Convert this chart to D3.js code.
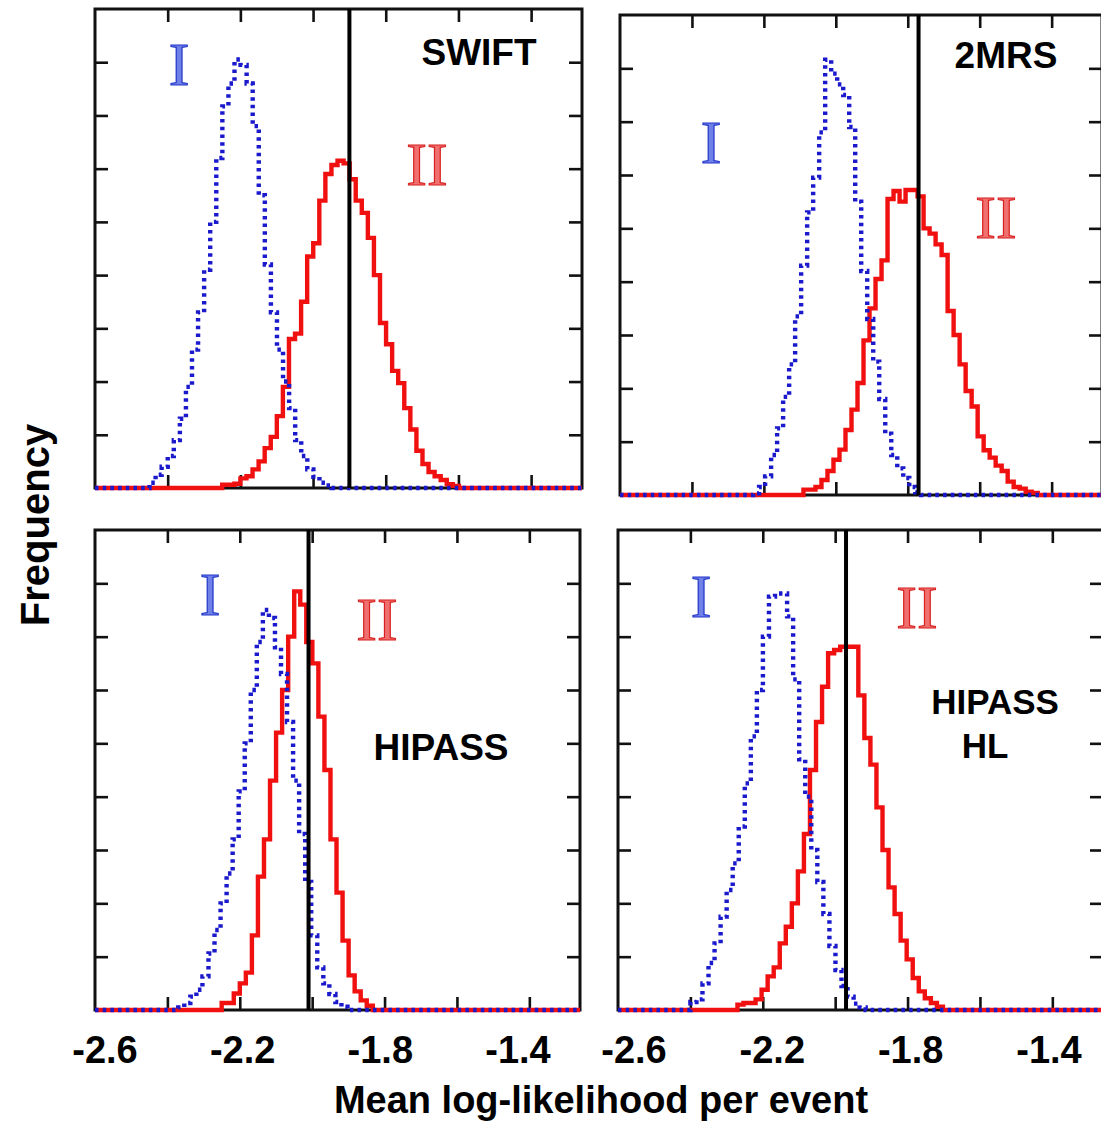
<!DOCTYPE html>
<html><head><meta charset="utf-8">
<script src="https://cdn.jsdelivr.net/npm/d3@7"></script>
<style>body{margin:0;background:#fff;} svg{display:block;}</style>
</head><body>
<svg id="c" width="1101" height="1125"></svg>
<script>
// ---------------- data ----------------
const panelNames = ["SWIFT", "2MRS", "HIPASS", "HIPASS HL"];
const binWidth = 0.0167;
const xDomain = [-2.6, -1.26];
const yDomain = [0, 9];
const xTickValues = [-2.4, -2.2, -2.0, -1.8, -1.6, -1.4];
const yTickValues = [1, 2, 3, 4, 5, 6, 7, 8];
const xLabelValues = [-2.6, -2.2, -1.8, -1.4];
const xTickLabels = ["-2.6", "-2.2", "-1.8", "-1.4"];
const thresholdValues = [-1.90, -1.77, -2.01, -1.97];
const seriesIStart = [-2.45, -2.23, -2.37, -2.40];
const seriesIIStart = [-2.25, -2.09, -2.25, -2.27];

const seriesI_SWIFT = [0.1,0.25,0.4,0.6,0.9,1.3,1.9,2.6,3.3,4.1,5.0,6.2,7.17,7.6,8.05,7.95,7.6,6.8,5.5,4.2,3.3,2.6,2.0,1.5,0.9,0.6,0.35,0.21,0.1,0.05];
const seriesII_SWIFT = [0.06,0.06,0.08,0.18,0.22,0.35,0.5,0.75,0.96,1.35,1.9,2.8,2.9,3.5,4.35,4.6,5.4,5.9,6.07,6.15,6.1,5.8,5.4,5.17,4.7,4.0,3.1,2.7,2.2,1.97,1.5,1.1,0.7,0.45,0.3,0.22,0.15,0.07,0.04];
const seriesI_2MRS = [0.03,0.15,0.35,0.75,1.25,1.84,2.45,3.35,4.3,5.3,5.95,6.8,8.16,7.9,7.7,7.5,6.9,5.5,4.2,3.3,2.5,1.8,1.15,0.75,0.5,0.32,0.15,0.05];
const seriesII_2MRS = [0.1,0.1,0.15,0.28,0.45,0.66,0.85,1.22,1.6,2.1,2.9,3.5,4.05,4.4,5.55,5.7,5.5,5.72,5.72,5.6,5.0,4.9,4.7,4.5,3.45,3.0,2.45,1.95,1.66,1.1,0.84,0.7,0.55,0.45,0.25,0.15,0.12,0.06,0.04];
const seriesI_HIPASS = [0.05,0.13,0.25,0.38,0.63,1.06,1.5,2.0,2.56,3.2,4.1,5.0,6.0,6.9,7.5,7.35,6.8,6.3,5.4,4.3,3.3,2.4,1.4,0.8,0.5,0.3,0.15,0.06];
const seriesII_HIPASS = [0.13,0.13,0.31,0.5,0.7,1.4,2.5,3.2,4.3,5.2,6.0,7.0,7.85,7.6,6.9,6.5,5.5,4.5,3.2,2.2,1.3,0.65,0.35,0.18,0.08];
const seriesI_HIPASSHL = [0.15,0.2,0.5,0.88,1.25,1.75,2.25,2.75,3.44,4.25,5.13,6.0,7.0,7.75,7.81,7.81,7.38,6.2,4.7,4.0,3.0,2.4,1.8,1.2,0.75,0.45,0.25,0.12,0.05];
const seriesII_HIPASSHL = [0.1,0.13,0.13,0.2,0.38,0.63,0.8,1.25,1.56,2.0,2.6,3.3,4.5,5.4,6.06,6.69,6.75,6.81,6.81,6.81,5.9,5.1,4.6,3.8,3.0,2.3,1.8,1.3,0.95,0.6,0.35,0.22,0.13,0.06];

const seriesI = [seriesI_SWIFT, seriesI_2MRS, seriesI_HIPASS, seriesI_HIPASSHL];
const seriesII = [seriesII_SWIFT, seriesII_2MRS, seriesII_HIPASS, seriesII_HIPASSHL];

// ---------------- layout ----------------
const layout = [
  {left: 95,  right: 582,  top: 9,   bottom: 488,  I: [179, 85],  II: [427, 185], name: [[479, 65]]},
  {left: 620, right: 1102, top: 15,  bottom: 495,  I: [711, 163], II: [996, 238], name: [[1006, 68]]},
  {left: 95,  right: 580,  top: 530, bottom: 1010, I: [210, 615], II: [377, 640], name: [[441, 760]]},
  {left: 618, right: 1103, top: 530, bottom: 1010, I: [701, 617], II: [917, 628], name: [[995, 714], [985, 758]]}
];
const labelRanges = [[105, 518], [634, 1049]];

const svg = d3.select("#c");
const SANS = "'Liberation Sans', Arial, Helvetica, sans-serif";
const SERIF = "'Liberation Serif', 'Times New Roman', serif";
const RED = "#f01010", BLUE = "#1a1acc";

function histPoints(start, vals) {
  const pts = [{x: xDomain[0], y: 0}];
  vals.forEach((v, i) => pts.push({x: start + i * binWidth, y: v}));
  pts.push({x: start + vals.length * binWidth, y: 0});
  pts.push({x: xDomain[1], y: 0});
  return pts;
}

layout.forEach((L, p) => {
  const x = d3.scaleLinear().domain(xDomain).range([L.left, L.right]);
  const y = d3.scaleLinear().domain(yDomain).range([L.bottom, L.top]);
  const g = svg.append("g");
  const cid = "clip" + p;
  svg.append("clipPath").attr("id", cid).append("rect")
    .attr("x", L.left - 3).attr("y", L.top - 3)
    .attr("width", L.right - L.left + 6).attr("height", L.bottom - L.top + 6);

  // frame
  g.append("rect").attr("x", L.left).attr("y", L.top)
    .attr("width", L.right - L.left).attr("height", L.bottom - L.top)
    .attr("fill", "none").attr("stroke", "#111").attr("stroke-width", 3);

  // ticks (inward on all four sides)
  const tl = 13;
  const axB = d3.axisBottom(x).tickValues(xTickValues).tickSize(-tl).tickFormat("");
  const axT = d3.axisTop(x).tickValues(xTickValues).tickSize(-tl).tickFormat("");
  const axL = d3.axisLeft(y).tickValues(yTickValues).tickSize(-tl).tickFormat("");
  const axR = d3.axisRight(y).tickValues(yTickValues).tickSize(-tl).tickFormat("");
  [[axB, `translate(0,${L.bottom})`], [axT, `translate(0,${L.top})`],
   [axL, `translate(${L.left},0)`], [axR, `translate(${L.right},0)`]].forEach(([ax, tr]) => {
    const a = g.append("g").attr("transform", tr).call(ax);
    a.select(".domain").remove();
    a.selectAll("line").attr("stroke", "#111").attr("stroke-width", 2.6);
  });

  const line = d3.line().x(d => x(d.x)).y(d => y(d.y)).curve(d3.curveStepAfter);
  const cg = g.append("g").attr("clip-path", `url(#${cid})`);
  cg.append("path").attr("d", line(histPoints(seriesIIStart[p], seriesII[p])))
    .attr("fill", "none").attr("stroke", RED).attr("stroke-width", 4.4)
    .attr("stroke-linejoin", "miter");
  cg.append("path").attr("d", line(histPoints(seriesIStart[p], seriesI[p])))
    .attr("fill", "none").attr("stroke", BLUE).attr("stroke-width", 4.4)
    .attr("stroke-dasharray", "3.5,4.2");
  cg.append("line").attr("x1", x(thresholdValues[p])).attr("x2", x(thresholdValues[p]))
    .attr("y1", L.top).attr("y2", L.bottom).attr("stroke", "#000").attr("stroke-width", 4);

  // Roman numeral labels
  g.append("text").attr("x", L.I[0]).attr("y", L.I[1]).attr("text-anchor", "middle")
    .attr("font-family", SERIF).attr("font-size", 62)
    .attr("fill", "#6f80e8").attr("stroke", "#2035c8").attr("stroke-width", 1.2).text("I");
  g.append("text").attr("x", L.II[0]).attr("y", L.II[1]).attr("text-anchor", "middle")
    .attr("font-family", SERIF).attr("font-size", 62)
    .attr("fill", "#f07070").attr("stroke", "#d82020").attr("stroke-width", 1.2).text("II");

  // dataset name
  const parts = panelNames[p] === "HIPASS HL" ? ["HIPASS", "HL"] : [panelNames[p]];
  parts.forEach((t, k) => {
    g.append("text").attr("x", L.name[k][0]).attr("y", L.name[k][1]).attr("text-anchor", "middle")
      .attr("font-family", SANS).attr("font-weight", "bold").attr("font-size", parts.length > 1 ? 35 : 37)
      .attr("fill", "#000").text(t);
  });

  // tick labels under the bottom row
  if (p >= 2) {
    const lx = d3.scaleLinear().domain([xLabelValues[0], xLabelValues[xLabelValues.length - 1]])
      .range(labelRanges[p - 2]);
    xLabelValues.forEach((v, i) => {
      g.append("text").attr("x", lx(v)).attr("y", 1063).attr("text-anchor", "middle")
        .attr("font-family", SANS).attr("font-weight", "bold").attr("font-size", 38)
        .attr("fill", "#000").text(xTickLabels[i]);
    });
  }
});

svg.append("text").attr("x", 601).attr("y", 1113).attr("text-anchor", "middle")
  .attr("font-family", SANS).attr("font-weight", "bold").attr("font-size", 38)
  .text("Mean log-likelihood per event");
svg.append("text").attr("transform", "translate(49,525) rotate(-90)").attr("text-anchor", "middle")
  .attr("font-family", SANS).attr("font-weight", "bold").attr("font-size", 40)
  .text("Frequency");
</script>
</body></html>
